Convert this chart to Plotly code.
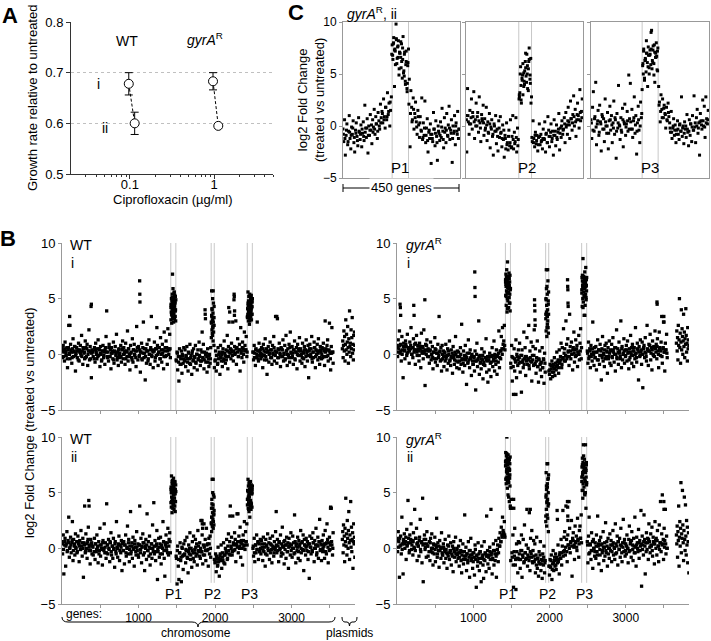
import numpy as np
import plotly.graph_objects as go

# ---------------- data ----------------
# Panel A: growth rate relative to untreated
conc_wt = [0.097, 0.114]
rate_wt = [0.678, 0.600]
err_wt = [0.022, 0.022]
conc_gy = [0.97, 1.12]
rate_gy = [0.683, 0.595]
err_gy = [0.017, 0.0]

# Panel B: chromosome genes every 8 genes (chr) + interleaved genes every 16 (core),
# dense peak genes, plasmid genes, extra outliers
CHR_STEP = 8
CORE_STEP, CORE_START = 16, 4
P_WIN = [(1422, 1488), (1950, 1990), (2422, 2488)]
PL_WIN = (3665, 3828)

wt1_chr = [
 .5, -.3, .8, .2, -.6, 1.1, .3, -.1, .6, -1.2, .4, 2.6, .1, -.4, .9, .2, -.8, .5, 1.4, -.2, .3, .7, -1.5, .1, .6,
 -.3, .4, 1.0, -.6, .2, .8, -.1, 1.7, .3, -.9, .5, .1, -.4, 1.2, .6, -.2, .9, -1.0, .3, 2.2, -.5, .7, .2, -2.1, .4,
 .3, -.2, None, .6, -.7, 1.0, .2, -.4, .5, 1.3, -.1, .4, -1.1, .7, .0, -.5, .3, .8, -.3, .2, -.9, .6, 1.6, 3.9, -.2,
 .2, -.6, .9, -.2, .4, -1.3, .6, .1, -.4, 1.1, -.8, .3, .7, -.1, 1.8, -.5, .2, -1.0, .5, .0, -.3, .8, -.7, .4, 1.2,
 -.4, .6, .1, -.9, 1.0, .3, -.2, 2.1, -.6, .5, .0, -1.4, .8, .2, -.3, 1.4, -.7, .4, .9, -.1, .3, -1.1, 2.5, .6, -.5,
 .7, -.2, .4, -1.6, .2, 1.0, -.5, .6, 2.9, -.3, .1, -2.3, .5, -.8, .9, .3, -.4, 1.3, .0, -.9, .6, 3.4, -.2, .4, -1.2,
 .3, 1.1, -.6, .5, -.1, 2.4, .8, -1.0, .2, .6, -.4, 1.5, .0, -.7, .9, .4, -1.3, 2.0, .3, -.2, 1.2, .6, -.9, 2.3, .5,
 .4, 1.8, -.3, 4.2, 3.6, 5.1, 4.7, 3.2, 5.5, 4.4, 3.9, 4.9, -.6, .2, -1.4, -.2, -2.4, .5, -.9, -.4, .3, -1.7, -.1, -.8, .6,
 -.5, .4, -1.1, -.2, .7, -.7, -1.5, .1, -.4, .9, -.9, -.1, -1.8, .3, -.6, .5, -1.2, -.3, .8, -.8, .0, -1.4, .4, -.5, 1.1,
 -.2, -1.0, .4, -.6, 2.0, -.3, .9, -1.3, .2, 3.6, -.7, .1, -1.6, .5, -.4, -1.1, .0, -.8, .6, 2.9, 4.1, 1.7, 5.7, 3.3, -1.2,
 -.6, .3, -1.5, -.1, -.9, .6, -.4, .2, -1.8, .8, -.3, .0, -1.1, .5, -.6, 1.2, .1, -.8, .4, -.2, 1.7, -1.3, .7, .2, 3.8,
 .5, -.4, 1.0, .2, 2.9, -.6, 4.9, .7, .1, 3.0, -.9, .6, 1.4, -.2, .4, .9, -1.5, 2.4, .3, -.3, 1.1, .5, -.7, 2.0, .8,
 .4, 1.6, -.2, 3.4, 4.6, 3.9, 5.2, 3.0, 4.8, 4.1, 3.6, 5.0, .2, -.5, .8, .1, -1.0, .5, -.3, 2.9, .3, -.6, 1.0, -.1, .4,
 -.4, .6, .0, -1.2, .9, .3, -.5, 1.4, -.2, .5, -1.8, .2, .7, -.7, .1, 1.1, -.3, .4, -.9, .8, .0, 1.6, -.6, .3, 3.4,
 .2, -.8, 3.2, .5, -.3, 1.0, .1, -1.1, .6, -.2, .4, 1.3, -.6, .0, .8, -.4, 1.7, .3, -1.0, .5, -.1, .9, -.7, 2.0, .2,
 -.3, .7, .1, -.9, .4, 1.2, -.5, .2, .6, -1.3, .9, -.1, .3, 1.5, -.6, .5, .0, -.8, 1.0, .2, -.4, .7, -1.1, .4, 1.3,
 .1, -.6, .8, -2.1, .3, .9, -.2, .5, 1.6, -.7, .2, -.3, 1.1, .6, -1.2, .4, .0, .9, -.5, 1.4, .3, -.9, .7, .2, -.4,
 .6, -.3, 1.0, .3, -1.0, 3.0, .5, -.2, .8, 1.3, -.6, .4, 2.8, .1, -1.4, .7, 2.4, .2, -.8]
wt1_core = [
 .3, -.2, .5, .1, -.4, .6, .0, .4, -.3, .2, .7, -.1, .3, -.5, .4, .1, -.2, .6, .2, -.3, .5, .0, .3, -.4, .1,
 .2, -.4, .4, .0, -.2, .5, .1, -.6, .3, -.1, .4, .2, -.3, .6, -.2, .1, .3, -.5, .2, .0, -.3, .4, .1, -.2, .5,
 .0, .3, -.4, .2, .5, -.2, .1, -.5, .4, .0, -.3, .3, .6, -.1, .2, -.4, .1, .5, -.2, .3, -.6, .0, .4, -.1, .2,
 .3, -.3, .5, .0, .2, -.4, .4, .1, -.2, .6, -.1, .3, .0, .5, 4.4, 3.8, 5.0, 4.6, -.5, .1, -.7, -.2, -.9, .0, -.4,
 -.6, -.1, -.4, .2, -.8, -.3, .1, -.5, -.2, -.7, .0, -.4, -.1, -.6, .2, -.3, -.5, .0, -.2, -.7, -.1, -.4, 3.5, 2.4, 4.3,
 -.5, -.1, -.8, .0, -.3, -.6, .2, -.4, -.1, -.5, .3, -.2, .1, .4, -.1, .3, .0, .5, .2, -.2, .4, .1, .6, .0, .3,
 .4, .2, 4.0, 3.5, 4.7, 4.3, .2, -.3, .4, .0, -.4, .3, .1, -.2, .5, -.1, .2, -.5, .3, .0, .4, -.3, .1, .6, -.1,
 .2, -.3, .4, .0, .5, -.2, .1, -.5, .3, .0, -.3, .6, .1, -.2, .4, -.4, .2, .0, .5, -.1, .3, -.3, .1, .4, -.2,
 .3, -.1, .5, .0, -.4, .2, .6, -.2, .3, .1, -.3, .4, .0, .5, -.2, .2, .4, -.1, .3, -.4, .1, .2]
wt1_p1 = [3.1, 4.5, 3.8, 5.0, 4.2, 2.8, 4.8, 3.5, 5.4, 4.0, 7.2, 3.3, 4.6, 5.9, 3.7, 4.3, 5.1, 2.9, 4.9, 3.6,
          4.4, 5.6, 3.2, 4.1, 5.3, 3.9, 4.7, 3.4, 5.2, 4.0, 3.0]
wt1_p2 = [1.5, 2.8, 5.7, 3.4, 2.2, 4.0, 1.9, 3.1, 5.0, 2.5, 3.7, 1.2, 2.9, 4.6, 2.0, 3.3, 0.8, 2.6]
wt1_p3 = [3.3, 4.1, 3.6, 5.6, 4.4, 3.0, 4.8, 3.8, 5.2, 3.5, 4.6, 2.7, 4.0, 5.4, 3.2, 4.3, 3.7, 5.0, 3.4, 4.5,
          3.9, 5.3, 3.1, 4.2, 4.9, 3.6, 4.7]
wt1_pl = [.5, 1.2, -.3, .8, 2.1, .3, 1.6, -.6, .9, 3.1, .4, 1.8, .0, 1.1, 2.5, .6, -.8, 1.4, .2, 3.9, .7, 1.0,
          -.2, 2.2, .5, 1.5, 3.3, .1, .9, -.5, 1.7, .4, 2.0, .8]
wt1_xg = [380, 384, 100, 104, 1015, 1017, 1019, 1870, 1875, 2250, 2252, 2254, 2256, 2180, 2184, 2808]
wt1_xv = [4.3, 4.5, 3.4, 2.6, 6.6, 5.4, 4.7, 4.0, 3.2, 5.4, 5.2, 3.5, 3.9, 4.2, 2.9, 3.4]

gy1_chr = [
 .8, -.2, 1.3, .5, 2.1, .1, .9, -.6, 1.6, .4, -2.1, 1.0, .3, -.4, 1.2, .7, -.1, 1.8, .2, .6, -.8, 1.1, .5, 2.4, .0,
 .6, -.3, 1.4, .2, .9, -.9, .4, 1.7, -.1, .8, .3, -.6, 1.0, .5, -1.2, 1.9, .1, .7, -.4, 2.2, .3, -2.8, .9, .0, 1.3,
 -.2, .5, None, -.8, .3, 1.1, -.5, .0, .7, -1.3, .2, -.4, 1.5, -.7, .4, .1, -1.0, .9, -.3, 3.4, .2, -.6, .6, -1.5, .8,
 -.4, .3, -1.1, .1, -.6, .9, -.2, -1.4, .5, -.8, .0, 1.2, -.5, -1.0, .4, -.3, -1.7, .7, -.1, -.9, .2, 1.6, -.6, -1.2, .3,
 -.7, .2, -1.3, -.2, .6, -.9, 2.7, -.5, -1.6, .3, -.4, -1.0, .8, -.2, -2.7, .1, -.8, 1.3, -.5, -1.2, .4, -.3, -1.9, .0, -.6,
 -.9, -.2, -1.5, .3, -3.2, -.6, 1.0, -1.1, -.4, 3.0, -1.8, -.1, -.7, -1.3, .5, -.5, -2.2, -.9, .2, -1.0, -.3, 1.4, -1.6, -.6, -2.5,
 -.5, -1.4, .1, -.8, -2.0, -.2, .6, -1.1, -.6, 1.2, -1.5, -.3, -.9, .4, -1.8, -.1, -.7, 2.1, -1.2, .3, -.4, 1.6, .5, 2.4, .9,
 1.2, 2.6, .4, 6.5, 5.2, 7.0, 4.1, 6.2, 5.6, 6.8, 4.6, 5.9, -1.2, .8, -2.4, -.3, -3.6, .5, -1.5, -.6, 1.3, -2.1, -.2, -1.0, .4,
 -.8, 1.0, -1.6, -.1, -3.4, .4, -.7, -1.2, 2.0, -.4, .6, -1.9, -.2, 1.5, -.9, -.5, 2.6, -1.3, .3, -.6, 1.1, -2.4, -.1, .7, -1.0,
 2.2, -.9, .5, -1.7, -.3, 1.2, -1.1, -2.5, -.5, .3, -1.4, -.8, -2.0, .6, -1.2, -.4, -2.6, .1, -1.6, 3.6, 5.9, 2.4, 7.6, 4.5, -1.5,
 -1.8, -.9, -2.2, -1.3, -.6, -2.0, -1.1, -1.6, -.3, -1.9, -.8, -1.4, .2, -1.0, -.5, -1.7, .4, -.7, -.2, 1.0, -1.2, .6, -.4, 2.3, .1,
 .5, -.6, 3.0, .9, -.2, 1.4, .3, -1.0, 3.6, .7, -.4, 1.1, .0, -1.4, .6, 2.0, -.7, .4, 1.3, -.1, .8, -1.1, .2, 1.7, -.5,
 1.0, 2.3, -.4, 5.5, 6.6, 4.2, 7.0, 5.9, 3.5, 6.4, 5.1, 6.9, .3, -.8, 1.1, -.2, .5, -1.2, .8, .0, -.6, 2.9, .2, -1.0, .6,
 -.3, .7, -1.4, .2, 1.3, -.5, .4, -.9, .9, -.1, -2.3, .5, 1.6, -.6, .1, -1.1, .8, -.4, 1.0, .3, -1.7, .6, -.2, 1.2, -.8,
 .4, -1.0, .9, -.3, 1.5, .2, -.7, .6, -1.5, .0, 2.2, -.4, .5, -.9, 1.1, .3, -.2, 3.0, -1.2, .7, -.5, .1, 1.4, -.8, .4,
 -.1, .8, -.6, 1.2, .2, -1.3, .5, -.3, 1.7, .0, -.8, .9, .3, -1.1, .6, -.4, 2.4, .1, -.7, 1.0, .4, -2.3, .7, -.2, 1.3,
 .2, -.9, 1.1, -3.0, .5, .8, -.3, 1.5, .1, -.6, 2.6, .4, -1.0, .9, .3, 1.8, -.5, .6, -1.4, 1.2, .0, .7, -.2, 2.1, .5,
 .9, -.4, 1.4, .3, -1.2, 2.0, .6, -.1, 1.1, 3.4, -.8, .5, 2.9, .2, -1.5, 1.0, .4, 1.8, -.3]
gy1_core = [
 .6, .2, .8, .3, .0, .7, .4, .9, .1, .5, .3, .8, .0, .6, .4, 1.0, .2, .5, -.1, .7, .3, .6, .1, .4, .8,
 .3, -.2, .4, .0, -.3, .2, .5, -.4, .1, -.1, .3, -.5, .0, -.2, .2, -.4, -.1, .3, -.6, -.2, .1, -.3, -.5, .0, -.2,
 -.2, -.6, .0, -.4, -.8, -.1, -.5, -.3, -.7, .1, -.4, -.2, -.9, -.3, -.6, .0, -.5, -.2, -.8, -.4, -.1, -.7, -.3, -.5, -.2,
 -.5, -.2, -.7, -.1, -.4, .0, -.6, -.2, .1, -.3, .3, .0, .5, .8, 6.3, 5.5, 6.9, 6.0, -.8, -.2, -1.1, -.4, -.7, .0, -.5,
 -.3, -.7, -.1, -.5, -.9, -.2, -.6, -.4, -1.0, -.3, -.7, -.5, -.1, -.8, -.6, -1.1, -.4, -.9, -.7, -1.2, -.5, -.8, 4.9, 3.4, 5.6,
 -1.4, -1.0, -1.6, -.9, -1.3, -1.1, -.7, -1.2, -.8, -.5, -.9, -.3, -.6, -.1, -.4, .2, -.2, .3, .0, .4, .1, -.2, .5, .2, .0,
 .3, .6, 6.0, 5.3, 6.7, 6.2, .1, -.4, .3, -.2, .5, .0, -.3, .2, -.5, .4, -.1, .3, -.3, .0, .4, -.2, .2, -.4, .1,
 .3, -.2, .4, .0, .6, -.3, .2, .1, -.4, .5, .0, .3, -.2, .4, .1, -.5, .2, .6, -.1, .3, .0, -.3, .5, .2, -.1,
 .4, .0, .6, .2, -.2, .5, .3, .8, .1, .4, -.1, .6, .2, .7, .0, .5, .3, -.2, .6, .2, .4, .1]
gy1_p1 = [6.7, 5.3, 7.2, 6.1, 4.4, 6.9, 5.7, 7.6, 6.3, 3.8, 6.6, 5.0, 8.3, 6.0, 4.8, 7.0, 5.5, 6.4, 4.2, 6.8,
          5.9, 7.3, 5.1, 6.2, 4.6, 6.5, 5.4, 7.1, 3.9, 5.8]
gy1_p2 = [3.2, 5.0, 2.1, 7.6, 3.8, 4.4, 1.6, 6.1, 3.5, 5.4, 2.7, 4.0, 3.0, 6.6, 2.4, 4.8, 1.9, 3.6]
gy1_p3 = [5.8, 6.9, 4.3, 7.1, 6.2, 5.0, 8.6, 6.5, 4.7, 7.0, 5.6, 6.3, 3.5, 6.8, 5.2, 7.4, 6.0, 4.4, 6.6, 5.4,
          7.8, 6.1, 4.9, 6.7, 5.7]
gy1_pl = [1.0, 2.1, .3, 1.5, -.5, 2.6, .8, 1.3, 5.0, .6, 1.9, -.8, 1.1, 4.0, .4, 2.3, 1.6, .0, 1.2, 3.6, .7, 2.0,
          -.3, 1.4, .9, 4.1, 1.7, .2, 1.0, -.6, 2.4, .5, 1.3, .8]
gy1_xg = [40, 44, 48, 220, 224, 365, 1020, 1022, 1024, 1804, 1806, 1808, 1810, 1812, 2237, 2239, 2241, 2243, 2245,
          3410, 3412, 3500, 3502, 1560]
gy1_xv = [4.5, 4.2, 3.5, 4.4, 3.5, 4.9, 7.4, 6.0, 5.2, 4.9, 4.4, 3.9, 3.1, 2.6, 6.7, 6.1, 5.8, 4.6, 4.3,
          4.7, 4.5, 3.4, 2.9, -3.6]

wt2_chr = [
 .6, -.5, 1.2, -2.3, .3, .9, -1.6, .4, 1.5, -.2, .7, 2.8, -.8, .1, 1.0, -.4, .5, 2.4, -1.1, .8, .2, -.6, 1.3, .0, .6,
 -.3, 1.1, .4, -1.2, .7, -.1, 1.6, .2, -.7, .9, -2.6, .5, 3.8, -.4, 1.3, .0, -.9, .6, 1.9, -.2, .3, -1.4, .8, .4, -.5,
 .2, -.6, None, .9, -1.0, .4, -.3, 1.2, .1, -1.3, .6, -.2, 1.8, -.7, .3, -.1, -1.5, .7, .0, 2.2, -.4, .5, -.9, 4.0, .3,
 -.5, .8, -.1, -1.2, .5, 1.4, -.6, .2, -.9, .9, .0, -1.7, .6, -.3, 2.4, .1, -.8, .4, 1.1, -1.1, .3, -.4, .7, -2.0, .5,
 -.2, .6, -1.4, .3, 1.2, -.7, .0, 2.0, -.5, .8, -1.2, .2, 3.3, -.3, .5, -.9, 1.0, -.1, -1.6, .7, .1, -.6, 1.5, -.2, .4,
 -.8, .3, 3.8, -.4, .9, -1.3, .1, 1.3, -.6, .5, -2.0, .2, .8, -1.0, 3.1, -.2, .6, -.7, 1.1, -1.5, .0, .4, -.9, 2.1, -.3,
 4.1, -.5, .7, -1.1, .2, 1.6, -2.8, -.3, .9, -.8, .4, 1.0, -1.4, .1, -.5, 2.4, .6, -.9, -2.5, .3, 1.2, -.2, .5, 1.8, -.6,
 .8, 1.4, -.4, 5.3, 4.2, 6.0, 3.6, 5.6, 4.8, 5.9, 3.3, 5.1, -.9, -3.2, .2, -1.6, -2.8, -.4, .5, -1.1, -3.0, .1, -.7, -1.9, .4,
 -.6, .7, -1.3, -.2, 1.0, -.9, -2.2, .3, -.5, 1.4, -1.0, .0, -1.7, .6, -.4, 1.1, -1.2, -.1, .8, -.7, .4, -1.5, 1.6, .2, -.3,
 .5, -.9, 2.5, -.3, 1.2, -1.4, .3, 2.2, -.6, .8, -1.1, 1.8, -.2, .4, -1.6, .9, -.5, 1.1, -.8, 2.3, 4.0, 2.0, 6.2, 3.1, -1.0,
 -1.3, -.5, -2.1, -.9, -1.6, .1, -1.2, -2.5, -.7, -1.0, .3, -1.8, -.4, -1.1, .5, -.6, -1.4, .0, -.3, .8, -1.0, .2, 1.3, -.5, .6,
 3.8, .2, 1.0, -.6, 2.9, .5, -.2, 1.4, .8, -1.2, .3, 3.1, .6, -.4, 1.1, .0, 1.9, -.8, .7, .4, -1.5, 1.2, .2, 2.4, -.1,
 1.5, .6, 2.2, 4.4, 5.1, 3.5, 5.8, 4.0, 5.4, 3.8, 4.9, 5.6, .0, -.7, .9, -1.2, .3, -.4, 1.2, -.1, .6, -1.0, .4, -.3, .8,
 -.5, .7, .1, -1.1, 1.0, -.3, .4, -1.6, .8, .2, -.6, 1.3, -.2, .5, -1.0, .9, -.4, .3, -1.3, 1.1, .0, -.7, .6, -.1, 1.5,
 3.3, -.4, .8, .2, -1.2, .6, -.1, 1.2, -.7, .4, 1.9, -.5, .1, -1.4, .7, .3, -.9, 1.0, -.3, .5, -1.8, .9, .2, -.6, 1.4,
 .3, -.8, 1.1, .0, -.5, 3.0, .6, -1.3, .4, -.2, 1.0, -.9, .7, .2, -1.1, 1.6, -.4, .5, -.1, 1.2, -2.0, .8, .3, -.6, .9,
 -.2, .6, -1.0, .4, -2.7, 1.1, .1, -.5, .9, -.3, 1.4, .5, -1.2, .7, .0, 1.8, -.6, .3, 1.0, -.9, .6, 2.6, -.2, .4, -1.1,
 .7, -.3, 1.2, .2, -.9, 1.6, .4, -.5, 2.2, .8, -1.3, .5, 1.0, -.1, 3.7, 3.6, .3, -.6, 1.4]
wt2_core = [
 .4, -.1, .6, .2, -.3, .5, .0, .3, .7, -.2, .4, .1, -.4, .6, .2, -.1, .5, .0, .3, -.3, .4, .8, .1, -.2, .5,
 .1, -.3, .4, -.1, .2, -.5, .3, .0, .5, -.2, .1, -.4, .3, .0, .6, -.3, .2, -.1, .4, -.5, .0, .3, -.2, .1, .4,
 -.2, .3, -.4, .1, .5, -.1, -.5, .2, .0, .4, -.3, .1, -.6, .3, -.1, .2, .5, -.4, .0, .3, -.2, .1, -.5, .4, .0,
 .2, -.3, .4, -.1, .1, -.5, .3, .0, -.2, .5, .1, -.4, .2, .6, 5.0, 4.5, 5.5, 4.2, -.7, -.2, -1.0, -.4, -.8, .0, -.6,
 -.5, -.1, -.8, -.3, .0, -.6, -.2, -.9, -.4, .1, -.5, -.2, -.7, .0, -.3, -.6, .1, -.2, .3, -.1, .4, .0, 2.8, 3.6, 4.6,
 -1.2, -.7, -1.5, -.9, -.5, -1.1, -.8, -1.3, -.6, -.4, -.9, -.2, -.6, .0, -.3, .3, -.1, .4, .1, .6, .2, .5, .0, .7, .3,
 .6, .3, 4.6, 5.3, 4.1, 5.0, .2, -.4, .3, -.1, .5, -.3, .0, .4, -.2, .1, -.5, .3, .0, -.2, .4, -.1, .2, -.4, .1,
 .3, -.2, .5, .0, -.4, .2, .6, -.1, .3, -.3, .1, .4, -.2, .0, .5, -.4, .2, .1, -.3, .4, .0, .6, -.2, .3, .1,
 .2, -.3, .4, .1, -.2, .5, .0, .3, -.4, .2, .6, -.1, .3, .0, .4, -.3, .5, .1, -.2, .3, .6, .0]
wt2_p1 = [4.1, 5.5, 3.7, 6.5, 4.6, 5.0, 3.2, 5.8, 4.3, 6.1, 5.2, 3.9, 5.6, 4.8, 6.3, 4.0, 5.4, 3.5, 5.9, 4.5,
          5.1, 3.8, 6.0, 4.9, 5.3, 4.2, 5.7]
wt2_p2 = [2.2, 3.6, 1.5, 4.4, 2.8, 6.2, 2.0, 3.2, 5.0, 2.6, 3.9, 1.8, 2.4, 4.8, 3.0, 2.1, 3.4]
wt2_p3 = [3.9, 5.2, 4.4, 6.2, 3.6, 5.6, 4.1, 4.8, 3.3, 5.9, 4.6, 5.0, 2.8, 5.4, 3.8, 6.0, 4.3, 5.1, 3.5, 5.7,
          4.0, 4.9, 5.5, 3.7, 5.3]
wt2_pl = [.8, 1.5, -.4, 2.1, .3, 1.1, -1.2, 1.8, .6, 4.5, .2, 1.3, -.6, 2.5, .9, .0, 1.6, 3.3, .5, -1.0, 1.2, .7,
          4.2, .1, 1.9, -.3, .8, 1.4, -1.8, .6, 2.2, .4, 1.0, -.8]
wt2_xg = [350, 354, 1830, 1834, 1838, 2195, 2300, 3510]
wt2_xv = [4.3, 3.8, 2.5, 2.2, 1.8, 2.9, 3.1, 3.6]

gy2_chr = [
 .9, -.3, 1.5, .6, -2.6, .2, 1.1, -.5, 2.8, .4, -2.3, .8, 1.3, .0, .6, -1.0, 1.7, .3, 4.3, .9, -.4, 1.2, .5, 2.2, -.1,
 .7, -.6, 1.4, .1, 3.5, -.2, .9, 1.8, -1.1, .5, .2, -.7, 1.0, 2.6, -.3, .6, -1.3, 4.5, -3.0, .4, 1.2, -.1, .8, -.8, 1.5,
 .2, -.7, None, .6, -1.1, .9, -.3, 1.3, .0, -1.5, .4, -.5, 1.0, -1.2, .3, 2.7, -.8, .5, -.2, -1.7, .7, .1, -.9, 1.4, -.4,
 -.6, .4, -1.3, -.1, .8, -.9, -.4, -1.8, .3, -.7, 1.1, -1.0, -.2, .5, -1.5, -.5, .2, -2.1, .6, -.8, -.3, 1.0, -1.2, .0, -.6,
 -.9, .2, -1.6, -.4, .7, -1.1, -2.2, -.3, .4, -1.4, -.7, 3.0, -1.0, .1, -2.0, -.5, -1.3, .6, -.8, -2.6, -.2, .9, -1.1, -.6, -1.8,
 -1.2, -.4, -2.4, .3, -1.0, -3.5, -.6, -1.6, .5, -.9, -2.0, -.3, -1.3, -3.0, .2, -.8, -1.5, -2.7, .6, -1.1, -.5, -2.1, 2.9, -.7, -1.4,
 -.6, -1.8, .1, -1.0, 3.5, -.4, -2.3, -.9, .4, -1.5, -.2, -1.1, .7, -2.6, -.5, .3, -1.2, .9, .2, 1.4, .6, 1.9, 1.2, 2.8, 1.6,
 1.3, 2.4, 1.0, 7.8, 6.3, 8.5, 6.0, 7.2, 4.6, 8.0, 6.6, 3.6, 4.4, 3.6, -.8, 1.2, -3.5, -.3, 1.8, -1.5, -3.7, .4, -.9, -2.2, .6,
 -1.0, .5, -1.8, -.2, 1.2, -2.6, -.6, .8, -1.3, 2.1, -.4, -1.0, .3, 3.5, -1.6, .0, -.8, 3.2, -2.0, .9, -.5, 1.6, -1.2, -.2, .7,
 -1.2, .4, -2.2, -.6, 1.0, -1.8, -.9, -2.5, -.3, -1.4, .6, -2.0, -1.0, -2.7, -.5, -1.5, .2, -2.2, -1.1, 2.9, 5.6, 4.2, 7.6, 6.3, -1.6,
 -2.4, -1.0, -1.7, -.6, -2.8, -1.4, -.2, -2.0, -1.1, -1.6, -.5, -1.9, -.8, -1.3, .3, -1.0, -2.3, -.4, -.9, .8, -1.5, .2, 3.4, -.3, 1.0,
 1.5, -.6, 3.8, .8, -1.2, 1.2, .3, 4.2, 1.8, -.4, .6, 2.5, -2.5, .9, 1.4, .1, -1.0, 2.0, .5, 1.1, -.2, 2.7, .7, -.8, 1.6,
 2.0, .9, 3.0, 6.4, 7.5, 5.2, 8.3, 6.9, 4.8, 9.3, 7.0, 5.9, .6, -1.3, 1.1, 2.8, -.4, .3, -1.0, 1.4, -.2, -1.8, .8, .0, -.7,
 .5, -.9, 1.2, -.3, 2.9, .2, -1.4, .7, -.6, 1.0, -2.0, .4, -.2, 1.5, -1.1, .1, -.7, 2.3, -.4, .6, -1.6, .9, .0, -.9, 1.3,
 -.2, .7, -1.2, .3, 1.6, -.6, .1, -1.0, 2.2, .4, -.4, 1.1, -1.5, .6, -.1, .9, -.8, 1.8, .2, -1.2, .5, 2.6, -.3, .8, -.7,
 .4, -.5, 1.2, .0, -1.3, .8, 2.0, -.2, .6, -.8, 1.5, .3, -1.1, .9, -.4, 2.8, .1, -1.6, 1.0, .5, -.3, 1.7, -.9, .7, .2,
 3.4, -3.4, 1.1, .3, -.6, 3.0, .8, -2.3, .5, 1.4, -.1, .9, -1.0, 2.2, .6, -.4, 1.3, .2, 1.9, -.7, 1.0, .4, -1.4, 2.4, .7,
 .9, -.6, 1.6, .2, -1.2, 2.1, .5, 4.2, -.3, 1.3, 4.8, .4, -1.0, 1.8, .7, 3.5, -.5, 1.1, .0]
gy2_core = [
 .7, .1, .9, .3, -.1, .6, .4, 1.0, .2, .5, -.2, .8, .3, .6, .0, .9, .4, .2, .7, -.1, .5, .3, .8, .1, .4,
 .2, -.3, .5, .0, -.4, .3, -.1, .1, -.5, .2, -.2, .0, -.6, .1, -.3, -.1, -.5, .2, -.4, -.2, -.7, .0, -.3, -.5, -.1,
 -.4, -.8, -.2, -.6, -1.0, -.3, -.7, -.5, -1.1, -.2, -.6, -.9, -.4, -.8, -.1, -.7, -1.2, -.5, -.3, -.9, -.6, -1.0, -.4, -.7, -.2,
 -.8, -.3, -.6, -1.0, -.2, -.5, -.7, -.1, -.4, .2, .6, 1.0, 1.4, 1.2, 7.5, 6.8, 8.0, 7.1, -1.1, -.4, -1.5, -.7, -1.0, -.3, -.9,
 -.5, -1.0, -.2, -.8, -1.2, -.4, -.9, -.6, -1.1, -.3, -.8, -1.3, -.7, -1.0, -1.5, -.9, -1.2, -.6, -1.4, -1.1, -.8, -1.3, 4.8, 5.5, 6.6,
 -1.6, -1.1, -1.9, -1.3, -.8, -1.5, -1.0, -1.2, -.6, -.9, -.4, -.7, -.2, .1, -.3, .3, .0, .5, .2, .7, .3, .6, .1, .8, .4,
 .9, .5, 6.8, 7.2, 6.0, 7.7, .3, -.5, .4, -.2, .6, .0, -.3, .2, -.6, .4, -.1, .3, -.4, .1, .5, -.2, .2, -.5, .0,
 .3, -.3, .5, .0, -.5, .2, .6, -.1, .3, -.4, .1, .5, -.2, .2, .0, -.3, .4, .7, -.1, .2, -.4, .3, .0, .5, -.2,
 .4, -.1, .6, .2, -.3, .5, .8, .1, .3, -.2, .6, .4, .0, .7, .2, -.1, .5, .3, .8, .1, .4, .0]
gy2_p1 = [7.4, 8.6, 6.2, 7.9, 5.8, 8.3, 6.9, 7.1, 10.0, 6.4, 7.7, 5.4, 8.1, 6.7, 7.5, 4.8, 8.4, 6.1, 7.2, 5.9,
          7.8, 6.5, 8.0, 4.2, 7.0, 6.3, 7.6, 5.6, 8.2, 3.8]
gy2_p2 = [2.4, 4.6, 6.8, 3.5, 5.3, 2.0, 4.1, 7.6, 3.0, 5.8, 4.4, 2.7, 6.2, 3.8, 5.0, 1.5, 4.0]
gy2_p3 = [6.0, 7.3, 5.2, 8.1, 6.6, 4.5, 7.7, 5.8, 9.3, 6.9, 7.4, 5.5, 6.3, 8.0, 4.9, 7.1, 6.1, 7.6, 5.0, 6.8,
          7.2, 3.6, 6.4, 7.5, 5.7]
gy2_pl = [1.2, .4, 2.0, -.8, 1.5, .7, 3.8, -1.6, 1.0, 2.4, .2, 1.8, 5.9, -.4, 1.3, .9, 5.2, 2.1, .5, -1.1, 1.6,
          4.6, .8, -.2, 3.9, 1.1, -.6, 2.5, .3, 1.9, -1.3, .6, 1.4, -2.2]
gy2_xg = [1530, 1532, 1748, 2100, 2104, 2236, 2238, 2240, 2242, 3500, 3502]
gy2_xv = [4.4, 3.6, 3.5, 3.4, 2.6, 4.2, 3.7, 2.9, 2.5, 4.2, 3.5]

# Panel C: gyrA^R ii, 450-gene windows around P1, P2, P3 (every 3 genes, core every 6) + dense peak genes
C_STEP = 3
C_CORE_STEP, C_CORE_START = 6, 1.5
C_WIN = [(189, 252), (203, 252), (195, 256)]
c1_vals = [
 -.3, -1.5, .6, -2.8, -.9, .2, -1.8, -.5, 1.0, -1.2, -2.2, -.1, -.8, .5, -1.6, -2.5, -.4, .3, -1.0, -1.9, .8, -.6, -1.3, .1, -2.0,
 -.7, .4, -1.4, 2.0, -.2, -1.1, .7, -2.6, .0, -.9, 1.1, -.4, -1.7, .6, -.1, 1.6, -.8, .9, .2, -1.2, 1.3, .5, -.3, 2.1, .8,
 1.4, .3, 2.6, .9, -.2, 1.8, .6, 3.2, 1.1, 2.2, .0, 1.5, 2.8, 7.8, 6.4, 8.5, 3.8, 7.2, 9.8, 6.0, 7.6, 8.2, 5.5, 7.0, 6.6,
 7.9, 4.6, 8.6, 5.3, 7.1, 4.0, 6.2, 3.6, 5.8, 7.4, 4.5, -2.0, 3.4, 1.8, .6, 2.7, -.3, 1.2, 2.3, .4, -.8, 1.5, .1, -1.1, .9,
 -.4, 2.7, -1.3, .3, -.9, 2.4, -1.6, -.2, .7, -2.5, -.6, -1.2, .2, -3.6, -.8, -1.5, 1.3, -.3, -1.9, .5, -1.0, -3.3, .0, -.7, -1.4,
 .4, -1.1, 1.7, -.5, -2.1, .8, -.2, -1.6, 1.2, -.9, .1, 1.9, -1.3, -.4, .6, -3.5, .0, -.7, 1.0, -1.8, .3, -.5, 1.4, -1.2, -.3]
c1_core = [
 -.8, -1.2, -.4, -1.5, -.6, -.9, -.2, -1.1, -.7, -1.4, -.5, -.8, -.3, -1.0, -.6, -.2, -.9, -.4, .1, -.6, -.3, .2, -.5, .0, .3,
 1.2, .6, 1.8, .9, 1.4, 2.3, 6.9, 7.9, 7.4, 8.3, 6.6, 7.1, 5.6, 6.4, 4.8, 5.9, 4.1, 2.1, 1.2, .4, 1.6, .8, -.1, .9, .3,
 -.5, -1.1, -.2, -.9, -1.4, -.4, -.8, -1.2, -.3, -.7, -1.6, -.5, -.9, -.1, -1.3, -.6, -.4, -1.0, -.2, -.7, -1.2, -.5, .0, -.8, -.3]
c1_pk = [6.8, 8.0, 7.3, 5.9, 8.4, 6.5, 7.7, 4.9, 7.0, 8.1, 6.2, 7.5, 5.1, 6.9, 4.3, 7.2, 3.3, 6.1]
c2_vals = [
 1.0, -2.5, 3.6, .4, -.8, 1.5, .2, 2.6, -.3, .9, 3.3, -1.2, .6, 2.2, .0, 1.3, -.6, 2.8, .3, -1.5, 1.1, .5, 2.0, -.9, .7,
 -.2, 1.8, -1.4, .4, -.7, 1.2, -2.1, -.1, .6, -1.0, -2.8, .2, -.5, 1.0, -1.7, -.3, -2.4, .5, -1.1, .9, -.6, -2.0, .1, -1.3, -3.0,
 -.9, -2.2, .3, -1.6, -2.3, -.4, -1.9, .6, -2.1, -1.0, 1.0, -2.2, -.6, -1.5, .8, -2.5, -.2, -1.3, 2.6, 3.2, 5.7, 2.2, 4.4, 3.0, 5.1,
 4.0, 6.2, 4.8, 6.9, 3.6, 5.5, 7.5, 4.5, 6.5, 2.8, -1.5, .5, -1.2, -2.0, -.6, -1.7, -.9, -2.4, -1.1, .2, -1.8, -.8, -1.4, -2.2, -.3,
 -1.2, .4, -2.5, -.7, -1.6, .9, -.4, -2.0, -1.0, .2, -1.5, -.5, -2.8, .6, -.9, -1.9, .1, -1.3, -.6, 1.2, -2.3, -.2, -1.1, .5, -.8,
 -.3, .8, -1.6, 1.3, .1, -.8, 1.8, .4, -1.2, 2.4, .7, -.4, 1.1, 2.9, .0, 1.6, -1.0, .6, 2.2, 1.0, -.2, 3.5, .5, 1.4, 2.6]
c2_core = [
 .6, 1.0, .2, .8, 1.3, .4, .0, .9, .5, -.2, .7, .3, -.4, .1, -.6, .2, -.3, -.8, .0, -.5, -1.0, -.2, -.7, -1.2, -.4,
 -1.2, -1.8, -1.0, -1.6, -2.0, -1.3, -1.7, -1.1, -1.9, 2.8, 3.9, 4.9, 4.3, 5.6, 5.0, 6.2, 4.1, -1.1, -1.6, -.9, -1.4, -1.8, -1.0, -1.5, -1.2,
 -1.3, -.8, -1.6, -1.0, -.6, -1.2, -.9, -.5, -1.1, -.3, -.7, .0, -.4, .2, -.1, .5, .1, .7, .3, .9, .4, 1.1, .6, 1.3, .8]
c2_pk = [3.0, 5.0, 2.5, 4.6, 6.0, 3.8, 5.3, 7.0, 4.2, 5.8, 3.4, 6.4, 4.9, 2.2]
c3_vals = [
 .6, -1.2, 1.8, 3.3, -.5, .9, 4.2, -1.8, .2, 1.5, -.9, 2.0, .4, -2.4, 1.1, -.3, .7, -1.5, 2.6, .0, -.7, 1.3, -2.2, .5, 1.9,
 -.4, 1.0, -1.6, .3, 2.4, -.8, .6, -3.1, 1.2, -.2, 3.9, .1, -1.3, .8, -.6, 1.7, -2.0, .4, 2.1, -.9, .2, 1.4, -.5, 4.9, .7,
 4.1, -.3, 1.6, -1.1, .5, 2.8, -.7, 1.0, -2.7, .3, 1.9, -.4, -1.6, 2.3, .8, 3.5, 6.0, 7.4, 4.4, 6.5, 5.2, 7.0, 3.8, 6.8, 5.6,
 7.3, 5.9, 9.2, 6.3, 7.7, 4.9, 7.1, 6.6, 8.0, 5.4, 7.5, 3.8, 2.3, .4, 3.0, 1.6, 2.6, .8, 2.0, 1.2, -.2, 1.8, .5, 2.2, .9,
 .3, -.6, 1.4, -1.2, -.2, .7, -.9, .1, -1.6, -.4, .5, -.8, -1.3, .2, -.5, 2.8, -1.0, .0, -1.7, .4, -.3, -1.1, 1.1, -.6, -1.9,
 .6, -.9, .2, -1.5, 1.0, -.4, 2.9, -.1, -1.6, .8, 1.6, -.7, .3, -2.8, 1.2, .5, -.3, 2.5, .0, 1.9, -1.1, 2.8, .7, .2, 1.5]
c3_core = [
 .3, -.4, .7, -.1, .5, -.6, .2, .9, -.3, .4, .0, -.7, .6, .1, -.2, .8, -.5, .3, .0, -.4, .6, .2, -.1, .5, -.3,
 .4, -.3, .8, .1, -.5, .6, .0, 1.2, 5.0, 6.3, 7.0, 5.7, 6.8, 7.4, 6.1, 7.8, 6.6, 7.2, 2.0, 1.4, .8, 1.7, 1.1, .6, 1.3,
 -.2, -.6, .0, -.4, -.8, -.3, .1, -.5, -.2, -.7, .0, -.3, -.5, .2, -.1, -.4, .3, .0, -.2, .4, .1, .5, -.1, .3, .6]
c3_pk = [5.8, 7.2, 4.6, 6.4, 8.2, 6.1, 7.6, 5.0, 6.9, 9.0, 5.5, 7.3, 6.0, 4.2, 7.0, 6.7, 5.3]

# ---------------- layout helpers ----------------
W, H = 711, 641
FONT = "Arial, 'Liberation Sans', sans-serif"


def px(x):
    return x / W


def py(y):
    return 1 - y / H


fig = go.Figure()


def pts(x, y, ax, size=3.3):
    fig.add_trace(go.Scatter(x=list(x), y=list(y), mode="markers", xaxis="x" + ax, yaxis="y" + ax,
                             marker=dict(size=size, color="black", symbol="square", line=dict(width=0)),
                             showlegend=False, hoverinfo="skip"))


# ---------------- Panel A ----------------
for cx, ry, ey in [(conc_wt, rate_wt, err_wt), (conc_gy, rate_gy, err_gy)]:
    fig.add_trace(go.Scatter(x=cx, y=ry, mode="lines+markers", xaxis="x", yaxis="y",
                             line=dict(color="black", width=1, dash="3px,2px"),
                             marker=dict(size=9, color="white", line=dict(color="black", width=1)),
                             error_y=dict(type="data", array=ey, color="black", thickness=1, width=4),
                             showlegend=False, hoverinfo="skip"))

# ---------------- Panel B ----------------
panels = [
    ("5", wt1_chr, wt1_core, wt1_p1, wt1_p2, wt1_p3, wt1_pl, wt1_xg, wt1_xv),
    ("6", gy1_chr, gy1_core, gy1_p1, gy1_p2, gy1_p3, gy1_pl, gy1_xg, gy1_xv),
    ("7", wt2_chr, wt2_core, wt2_p1, wt2_p2, wt2_p3, wt2_pl, wt2_xg, wt2_xv),
    ("8", gy2_chr, gy2_core, gy2_p1, gy2_p2, gy2_p3, gy2_pl, gy2_xg, gy2_xv),
]
shapes = []
for ax, chr_v, core_v, p1, p2, p3, pl, xg, xv in panels:
    pts(np.arange(len(chr_v)) * CHR_STEP, chr_v, ax)
    pts(CORE_START + np.arange(len(core_v)) * CORE_STEP, core_v, ax)
    for (lo, hi), pv in zip(P_WIN, [p1, p2, p3]):
        pts(np.linspace(lo + 2, hi - 2, len(pv)), pv, ax)
    pts(np.linspace(PL_WIN[0], PL_WIN[1], len(pl)), pl, ax)
    pts(xg, xv, ax)
    ybot = -5 if ax in ("5", "6") else -3.1
    for lo, hi in P_WIN:
        for gx in (lo, hi):
            shapes.append(dict(type="line", xref="x" + ax, yref="y" + ax, x0=gx, x1=gx, y0=ybot, y1=10,
                               line=dict(color="#c8c8c8", width=1), layer="below"))

# ---------------- Panel C ----------------
for ax, vals, core_v, pk, (lo, hi) in [("2", c1_vals, c1_core, c1_pk, C_WIN[0]),
                                       ("3", c2_vals, c2_core, c2_pk, C_WIN[1]),
                                       ("4", c3_vals, c3_core, c3_pk, C_WIN[2])]:
    pts(np.arange(len(vals)) * C_STEP, vals, ax, size=3)
    pts(C_CORE_START + np.arange(len(core_v)) * C_CORE_STEP, core_v, ax, size=3)
    pts(np.linspace(lo + 2, hi - 2, len(pk)), pk, ax, size=3)
    for gx in (lo, hi):
        shapes.append(dict(type="line", xref="x" + ax, yref="y" + ax, x0=gx, x1=gx, y0=-5, y1=10,
                           line=dict(color="#c8c8c8", width=1), layer="below"))

# ---------------- axes ----------------
tickfont = dict(family=FONT, size=13, color="black")
lay = dict(
    width=W, height=H, margin=dict(l=0, r=0, t=0, b=0, autoexpand=False),
    plot_bgcolor="white", paper_bgcolor="white",
    font=dict(family=FONT, color="black"),
    xaxis=dict(type="log", domain=[px(71), px(273)], range=[np.log10(0.02), np.log10(5)],
               tickvals=[0.1, 1], ticktext=["0.1", "1"], ticks="outside", ticklen=4, tickcolor="#333",
               showline=True, linecolor="#333", showgrid=False, zeroline=False, tickfont=tickfont,
               automargin=False, ticklabelstandoff=-6,
               minor=dict(tickmode="array", tickvals=[0.03, 0.04, 0.05, 0.06, 0.07, 0.08, 0.09, 0.2, 0.3, 0.4,
                                                      0.5, 0.6, 0.7, 0.8, 0.9, 2, 3, 4, 5],
                          ticks="outside", ticklen=2, tickcolor="#333")),
    yaxis=dict(domain=[py(174), py(22)], range=[0.5, 0.8], tickvals=[0.5, 0.6, 0.7, 0.8],
               ticktext=["0.5", "0.6", "0.7", "0.8"], ticks="outside", ticklen=4, tickcolor="#333",
               showline=True, linecolor="#333", showgrid=True, gridcolor="#c0c0c0", griddash="dot",
               zeroline=False, tickfont=tickfont, automargin=False),
)
c_dom = [(343, 460), (466, 583), (591, 709)]
for i, (a, b) in enumerate(c_dom):
    n = str(i + 2)
    lay["xaxis" + n] = dict(domain=[px(a), px(b)], range=[0, 450], showticklabels=False, ticks="",
                            showline=True, mirror=True, linecolor="#999", showgrid=False, zeroline=False,
                            anchor="y" + n, automargin=False)
    lay["yaxis" + n] = dict(domain=[py(178), py(22)], range=[-5, 10], tickvals=[-5, 0, 5, 10],
                            showticklabels=(i == 0), ticks="outside", ticklen=3, tickcolor="#999",
                            showline=True, mirror=True, linecolor="#999", showgrid=False, zeroline=False,
                            anchor="x" + n, automargin=False,
                            tickfont=dict(family=FONT, size=12, color="black"))
b_dom = {"5": ((62, 355), (243, 410)), "6": ((397, 689), (243, 410)),
         "7": ((62, 355), (437, 604)), "8": ((397, 689), (437, 604))}
for n, ((a, b), (t, btm)) in b_dom.items():
    bottom = n in ("7", "8")
    lay["xaxis" + n] = dict(domain=[px(a), px(b)], range=[0, 3830],
                            tickvals=[500, 1000, 1500, 2000, 2500, 3000, 3500],
                            ticktext=["", "1000", "", "2000", "", "3000", ""], showticklabels=bottom,
                            ticks="outside", ticklen=3, tickcolor="#999", showline=True, linecolor="#999",
                            showgrid=False, zeroline=False, anchor="y" + n, automargin=False,
                            tickfont=dict(family=FONT, size=12, color="black"))
    lay["yaxis" + n] = dict(domain=[py(btm), py(t)], range=[-5, 10], tickvals=[-5, 0, 5, 10],
                            ticks="outside", ticklen=3, tickcolor="#999", showline=True, linecolor="#999",
                            showgrid=False, zeroline=False, anchor="x" + n, tickfont=tickfont,
                            automargin=False)


def P(x, y):
    return f"{px(x):.5f},{py(y):.5f}"


brace_c = (f"M {P(62, 617)} Q {P(62, 622)} {P(68, 622)} L {P(192, 622)} Q {P(198, 622)} {P(198, 627)} "
           f"Q {P(198, 622)} {P(204, 622)} L {P(329, 622)} Q {P(335, 622)} {P(335, 617)}")
brace_p = (f"M {P(342, 617)} Q {P(342, 622)} {P(345, 622)} L {P(347, 622)} Q {P(349.5, 622)} {P(349.5, 626)} "
           f"Q {P(349.5, 622)} {P(352, 622)} L {P(354, 622)} Q {P(357, 622)} {P(357, 617)}")
for pth in (brace_c, brace_p):
    shapes.append(dict(type="path", xref="paper", yref="paper", path=pth, line=dict(color="black", width=1)))
# 450 genes scale bar
shapes.append(dict(type="line", xref="paper", yref="paper", x0=px(343), x1=px(459), y0=py(188), y1=py(188),
                   line=dict(color="black", width=1)))
for xx in (343, 459):
    shapes.append(dict(type="line", xref="paper", yref="paper", x0=px(xx), x1=px(xx), y0=py(184), y1=py(192),
                       line=dict(color="black", width=1)))
lay["shapes"] = shapes

ann = []


def txt(x, y, s, size=13, xa="center", angle=0, bg=None):
    d = dict(x=px(x), y=py(y), xref="paper", yref="paper", text=s, showarrow=False, xanchor=xa,
             yanchor="middle", textangle=angle, font=dict(family=FONT, size=size, color="black"))
    if bg:
        d["bgcolor"] = bg
    ann.append(d)


def dtxt(ax, x, y, s, size=14):
    ann.append(dict(x=x, y=y, xref="x" + ax, yref="y" + ax, text=s, showarrow=False,
                    font=dict(family=FONT, size=size, color="black")))


GYR = "<i>gyrA</i><sup>R</sup>"
txt(10, 15, "<b>A</b>", 22)
txt(8, 239, "<b>B</b>", 22)
txt(296, 13, "<b>C</b>", 22)
# panel A texts
txt(127, 41, "WT", 14)
txt(205, 39, GYR, 14)
txt(98, 84, "i", 14)
txt(105, 128, "ii", 14)
txt(33, 98, "Growth rate relative to untreated", 13, angle=-90)
txt(172, 199, "Ciprofloxacin (µg/ml)", 13)
# panel C texts
txt(345, 13, GYR + ", ii", 14, xa="left")
txt(311, 100, "log2 Fold Change<br>(treated vs untreated)", 13, angle=-90)
txt(401, 188, "450 genes", 13, bg="white")
for ax, xx, lab in [("2", 219, "P1"), ("3", 235, "P2"), ("4", 225, "P3")]:
    dtxt(ax, xx, -4.0, lab, 15)
# panel B texts
txt(68, 245, "WT", 14, xa="left")
txt(69, 263, "i", 14, xa="left")
txt(404, 244, GYR, 14, xa="left")
txt(405, 263, "i", 14, xa="left")
txt(68, 439, "WT", 14, xa="left")
txt(69, 457, "ii", 14, xa="left")
txt(404, 439, GYR, 14, xa="left")
txt(405, 457, "ii", 14, xa="left")
txt(29, 423, "log2 Fold Change (treated vs untreated)", 13, angle=-90)
for ax in ("7", "8"):
    for xx, lab in [(1452, "P1"), (1972, "P2"), (2456, "P3")]:
        dtxt(ax, xx, -4.1, lab, 14)
txt(64, 614, "genes:", 12, xa="left")
txt(196, 633, "chromosome", 12)
txt(349, 633, "plasmids", 12)
lay["annotations"] = ann

fig.update_layout(**lay)
# the page body has a default 8px margin; remove it so the figure sits at the window's top-left corner
fig.write_html("out.html", config={"displayModeBar": False},
               post_script="document.body.style.margin='0px';")
